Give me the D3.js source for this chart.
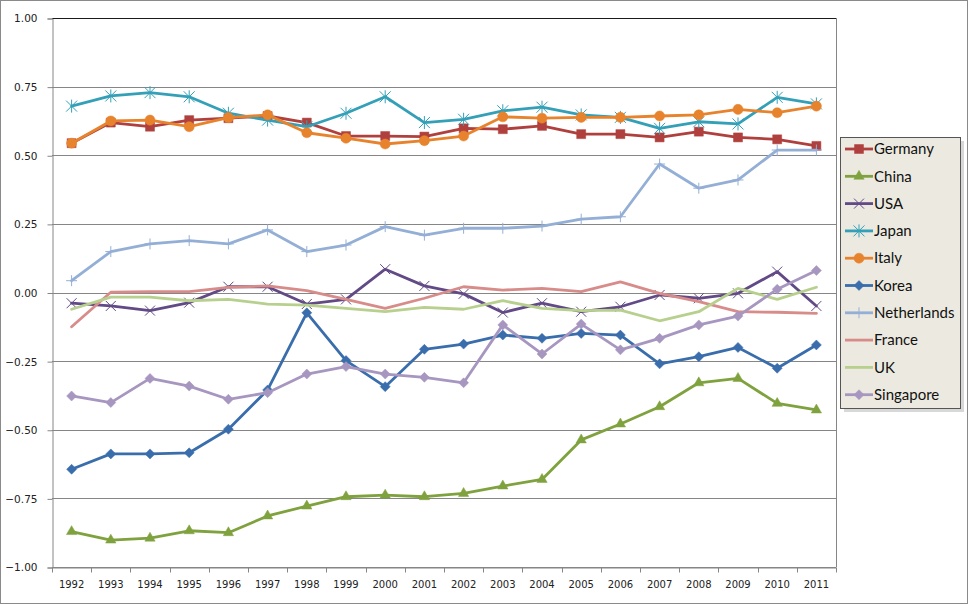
<!DOCTYPE html>
<html><head><meta charset="utf-8">
<script src="https://cdn.jsdelivr.net/npm/d3@7"></script>
<style>body{margin:0;background:#fff}svg{display:block}</style>
</head><body>
<svg id="c" width="968" height="604"></svg>
<script>
const years = ["1992","1993","1994","1995","1996","1997","1998","1999","2000","2001","2002","2003","2004","2005","2006","2007","2008","2009","2010","2011"];
const yTicks = [-1, -0.75, -0.5, -0.25, 0, 0.25, 0.5, 0.75, 1];
const seriesNames = ["Germany","China","USA","Japan","Italy","Korea","Netherlands","France","UK","Singapore"];
const germany = [0.544,0.619,0.604,0.628,0.635,0.643,0.619,0.570,0.570,0.568,0.598,0.595,0.607,0.577,0.577,0.565,0.586,0.565,0.558,0.534];
const china = [-0.871,-0.902,-0.895,-0.868,-0.875,-0.814,-0.778,-0.744,-0.738,-0.744,-0.732,-0.705,-0.681,-0.537,-0.479,-0.416,-0.329,-0.313,-0.404,-0.428];
const usa = [-0.039,-0.049,-0.066,-0.037,0.021,0.021,-0.042,-0.025,0.085,0.024,-0.005,-0.073,-0.039,-0.070,-0.052,-0.009,-0.021,-0.003,0.076,-0.049];
const japan = [0.679,0.716,0.728,0.713,0.653,0.628,0.604,0.653,0.713,0.619,0.631,0.662,0.675,0.647,0.638,0.598,0.622,0.614,0.711,0.687];
const italy = [0.544,0.625,0.628,0.604,0.637,0.647,0.582,0.562,0.541,0.553,0.570,0.640,0.635,0.638,0.638,0.643,0.647,0.667,0.655,0.679];
const korea = [-0.644,-0.588,-0.588,-0.584,-0.498,-0.355,-0.074,-0.248,-0.343,-0.207,-0.188,-0.155,-0.167,-0.149,-0.155,-0.260,-0.234,-0.200,-0.276,-0.191];
const netherlands = [0.043,0.149,0.177,0.189,0.177,0.228,0.149,0.173,0.240,0.209,0.234,0.234,0.242,0.267,0.276,0.468,0.380,0.410,0.519,0.519];
const france = [-0.125,0.001,0.003,0.003,0.019,0.024,0.007,-0.025,-0.058,-0.021,0.021,0.009,0.015,0.003,0.039,-0.003,-0.033,-0.070,-0.072,-0.076];
const uk = [-0.061,-0.017,-0.017,-0.030,-0.025,-0.042,-0.046,-0.058,-0.070,-0.054,-0.061,-0.030,-0.058,-0.066,-0.064,-0.103,-0.070,0.015,-0.025,0.019];
const singapore = [-0.377,-0.401,-0.313,-0.341,-0.389,-0.365,-0.297,-0.270,-0.297,-0.309,-0.329,-0.118,-0.224,-0.115,-0.209,-0.167,-0.118,-0.086,0.012,0.080];

const seriesValues = [germany,china,usa,japan,italy,korea,netherlands,france,uk,singapore];
const colors = ["#B0403D","#7FA23E","#614A86","#34A0B8","#E8832D","#3A6DAB","#94AFD6","#D88C8A","#B8D08E","#A796C0"];
const markers = ["square","triangle","x","star","circle","diamond","plus","none","none","diamond"];

const svg = d3.select("#c");
const W = 968, H = 604;
const L = 52, R = 836, T = 18, B = 567;

svg.append("rect").attr("x",0.5).attr("y",0.5).attr("width",W-1).attr("height",H-1)
  .attr("fill","#fff").attr("stroke","#8a8a8a");

const x = d3.scaleBand().domain(years).range([L,R]).padding(0);
const y = d3.scaleLinear().domain([-1,1]).range([B,T]);

// gridlines
svg.append("g").selectAll("line").data(yTicks).join("line")
  .attr("x1",L).attr("x2",R)
  .attr("y1",d=>Math.round(y(d))+0.5).attr("y2",d=>Math.round(y(d))+0.5)
  .attr("stroke",d=>d===1?"#1a1a1a":"#868686").attr("stroke-width",1);
// right border
svg.append("line").attr("x1",R+0.5).attr("x2",R+0.5).attr("y1",T).attr("y2",B).attr("stroke","#868686");

// y axis
const yAxis = d3.axisLeft(y).tickValues(yTicks).tickFormat(d3.format(".2f")).tickSize(5).tickPadding(10);
const gy = svg.append("g").attr("transform",`translate(${L+0.5},0.5)`).call(yAxis);
gy.select(".domain").attr("stroke","#868686");
gy.selectAll(".tick line").attr("stroke","#868686");
gy.selectAll("text").attr("font-family","DejaVu Sans").attr("font-size",10.5).attr("fill","#222");

// x axis
const xAxis = d3.axisBottom(x).tickSize(0).tickPadding(13);
const gx = svg.append("g").attr("transform",`translate(0,${Math.round(B)+0.5})`).call(xAxis);
gx.select(".domain").attr("stroke","#868686");
gx.selectAll("text").attr("font-family","DejaVu Sans").attr("font-size",10).attr("fill","#222");
// boundary ticks
gx.append("g").selectAll("line").data(years.concat(["_end"])).join("line")
  .attr("x1",(d,i)=>Math.round(L + i*x.bandwidth())+0.5).attr("x2",(d,i)=>Math.round(L + i*x.bandwidth())+0.5)
  .attr("y1",0).attr("y2",5).attr("stroke","#868686");

function markerPath(type, s){
  const h = s/2;
  switch(type){
    case "square": return d3.symbol(d3.symbolSquare, s*s)();
    case "triangle": return d3.symbol(d3.symbolTriangle, 46)();
    case "circle": return d3.symbol(d3.symbolCircle, s*s*0.8)();
    case "diamond": return `M0,${-h}L${h},0L0,${h}L${-h},0Z`;
    case "x": return `M${-h},${-h}L${h},${h}M${-h},${h}L${h},${-h}`;
    case "star": return `M${-h},${-h}L${h},${h}M${-h},${h}L${h},${-h}M0,${-h-1}L0,${h+1}`;
    case "plus": return `M${-h},0L${h},0M0,${-h}L0,${h}`;
  }
  return "";
}
const markerSize = {square:9, triangle:10, circle:10, diamond:10, x:10, star:11, plus:11};

const line = d3.line().x((d,i)=>x(years[i])+x.bandwidth()/2).y(d=>y(d));
const gS = svg.append("g");
seriesValues.forEach((vals,si)=>{
  const g = gS.append("g");
  g.append("path").attr("d",line(vals)).attr("fill","none")
    .attr("stroke",colors[si]).attr("stroke-width",2.8).attr("stroke-linejoin","round").attr("stroke-linecap","round");
  const m = markers[si];
  if(m!=="none"){
    const filled = !(m==="x"||m==="star"||m==="plus");
    g.selectAll("path.m").data(vals).join("path").attr("class","m")
      .attr("transform",(d,i)=>`translate(${x(years[i])+x.bandwidth()/2},${y(d)})`)
      .attr("d",markerPath(m, markerSize[m]))
      .attr("fill",filled?colors[si]:"none")
      .attr("stroke",colors[si]).attr("stroke-width",filled?0.5:1);
  }
});

// legend
const LX = 840, LY = 137, LW = 120, LH = 271;
svg.append("rect").attr("x",LX+4).attr("y",LY+4).attr("width",LW).attr("height",LH).attr("fill","#c8c8c8").attr("opacity",0.7);
svg.append("rect").attr("x",LX+0.5).attr("y",LY+0.5).attr("width",LW).attr("height",LH)
  .attr("fill","#ECEAE0").attr("stroke","#555").attr("stroke-width",1);
const lg = svg.append("g");
seriesNames.forEach((name,si)=>{
  const cy = 149 + si*27.3;
  const g = lg.append("g").attr("transform",`translate(0,${cy})`);
  g.append("line").attr("x1",845).attr("x2",873).attr("y1",0).attr("y2",0)
    .attr("stroke",colors[si]).attr("stroke-width",2.8);
  const m = markers[si];
  if(m!=="none"){
    const filled = !(m==="x"||m==="star"||m==="plus");
    g.append("path").attr("transform","translate(859,0)").attr("d",markerPath(m, markerSize[m]))
      .attr("fill",filled?colors[si]:"none").attr("stroke",colors[si]).attr("stroke-width",filled?0.5:1);
  }
  g.append("text").attr("x",874).attr("y",0).attr("dy","0.35em")
    .attr("font-family","Lato, 'Open Sans', sans-serif").attr("font-size",15).attr("fill","#111").text(name);
});
</script>
</body></html>
